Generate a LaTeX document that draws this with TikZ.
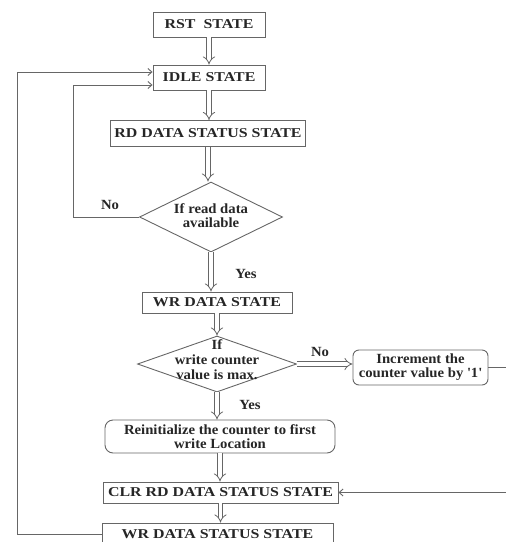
\documentclass[tikz,border=0pt]{standalone}
\usepackage{fontspec}
\setmainfont[FakeStretch=1.05]{Liberation Serif}
\newfontfamily\capsfont[FakeStretch=1.18]{Liberation Serif}
\usetikzlibrary{shapes.geometric,arrows.meta}

\begin{document}
\begin{tikzpicture}[x=1pt, y=-1pt,
    every node/.style={font=\bfseries\fontsize{14}{14}\selectfont, text=black!85, align=center},
    state/.style={draw=black!60, line width=0.9pt, inner sep=0pt},
    caps/.style={font=\capsfont\bfseries\fontsize{13.5}{14}\selectfont},
    decision/.style={draw=black!60, line width=0.9pt, diamond, inner sep=0pt},
    flow/.style={draw=black!60, line width=0.8pt, double=white, double distance=3.5pt, -{Implies[scale=1.3]}},
    loop/.style={draw=black!60, line width=0.9pt, -{Straight Barb[length=4pt,width=7pt]}}]
    \useasboundingbox (0,0) rectangle (506,542);

    % States
    \node[state, caps, minimum width=112pt, minimum height=25pt] (rst) at (209,24.5) {RST~ STATE};
    \node[state, caps, minimum width=112pt, minimum height=25pt] (idle) at (209,77.5) {IDLE STATE};
    \node[state, caps, minimum width=195pt, minimum height=26pt] (rdstat) at (208,133.5) {RD DATA STATUS STATE};
    \node[decision, minimum width=143pt, minimum height=70pt] (ifread) at (211,217) {};
    \node (ifreadtxt) at (211,216) {If read data\\available};
    \node[state, caps, minimum width=150pt, minimum height=21pt] (wrdata) at (217,302.5) {WR DATA STATE};
    \node[decision, minimum width=159pt, minimum height=56pt] (ifmax) at (217,364) {};
    \node[font=\bfseries\fontsize{14}{15}\selectfont] (ifmaxtxt) at (217,360) {If\\write counter\\value is max.};
    \node[state, rounded corners=6pt, minimum width=135pt, minimum height=35pt] (incr) at (420.5,367.5) {Increment the\\counter value by \textquotesingle 1\textquotesingle};
    \node[state, rounded corners=8pt, minimum width=230pt, minimum height=33pt] (reinit) at (220,436.5) {Reinitialize the counter to first\\write Location};
    \node[state, caps, minimum width=235pt, minimum height=21pt] (clr) at (220.5,492.5) {CLR RD DATA STATUS STATE};
    \node[state, caps, minimum width=231pt, minimum height=23pt] (wrstat) at (217.5,534.5) {WR DATA STATUS STATE};

    % Labels
    \node (noread) at (110,205) {No};
    \node (yesread) at (246,274) {Yes};
    \node (nomax) at (320,352) {No};
    \node (yesmax) at (250,405) {Yes};

    % Main flow
    \draw[flow] (rst.south) -- (rst.south |- idle.north);
    \draw[flow] (idle.south) -- (idle.south |- rdstat.north);
    \draw[flow] (rdstat.south) -- (rdstat.south |- ifread.north);
    \draw[flow] (ifread.south) -- (ifread.south |- wrdata.north);
    \draw[flow] (wrdata.south) -- (wrdata.south |- ifmax.north);
    \draw[flow] (ifmax.south) -- (ifmax.south |- reinit.north);
    \draw[flow] (reinit.south) -- (reinit.south |- clr.north);
    \draw[flow] (clr.south) -- (clr.south |- wrstat.north);
    \draw[flow] (ifmax.east) -- (ifmax.east -| incr.west);

    % Loops back
    \coordinate (outer) at (17,72);
    \coordinate (inner) at (73,85);
    \draw[loop] (wrstat.west) -| (outer) -- (outer -| idle.west);
    \draw[loop] (ifread.west) -| (inner) -- (inner -| idle.west);
    \draw[loop] (incr.east) -- ++(22,0) |- (clr.east);
\end{tikzpicture}
\end{document}
